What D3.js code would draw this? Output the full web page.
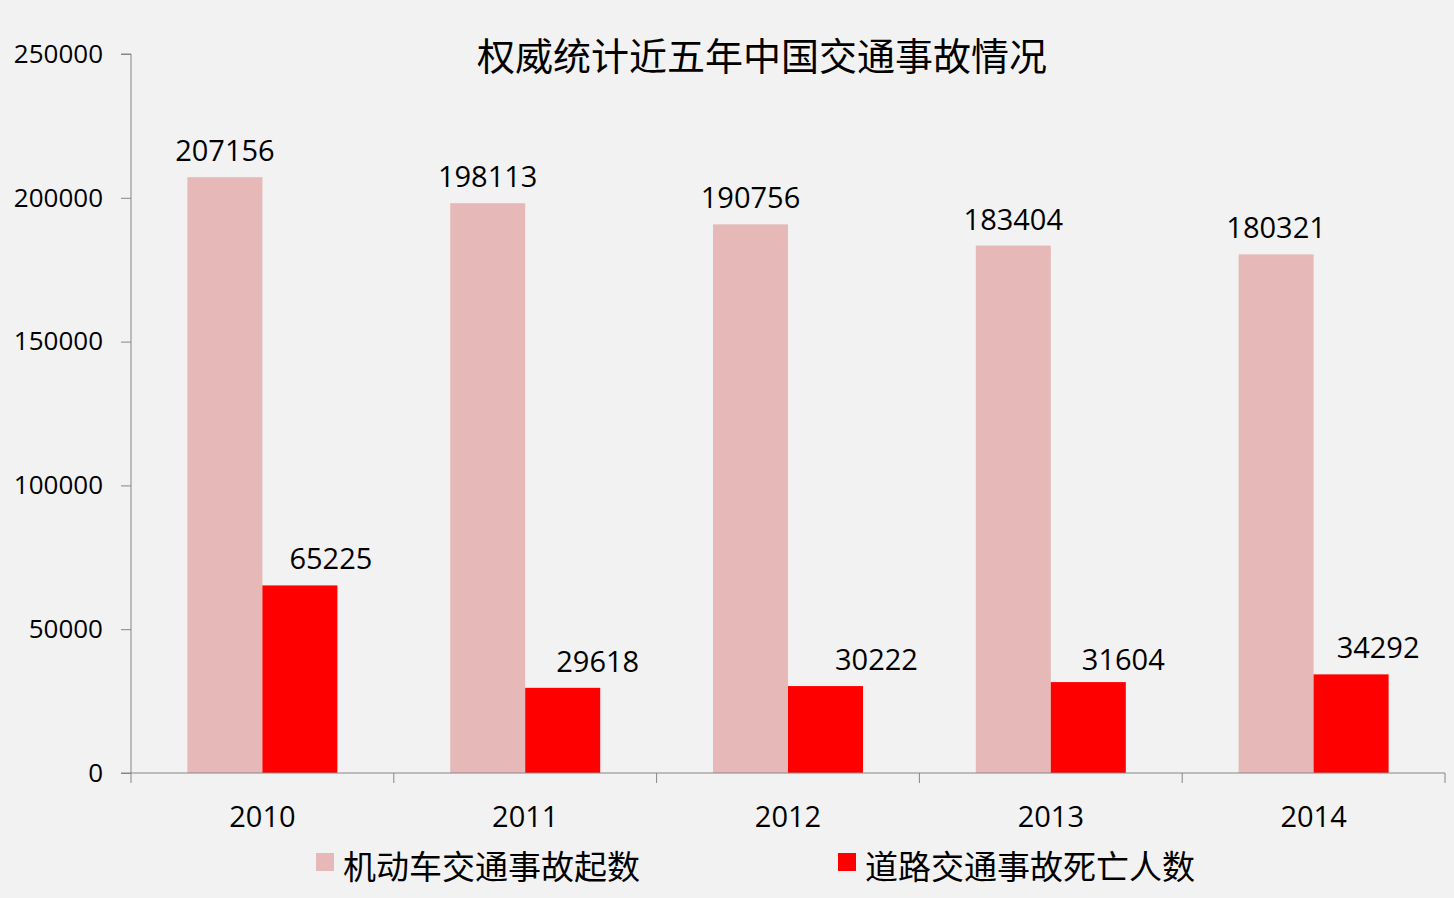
<!DOCTYPE html>
<html><head><meta charset="utf-8">
<script src="https://cdnjs.cloudflare.com/ajax/libs/d3/7.8.5/d3.min.js"></script>
<style>
html,body{margin:0;padding:0;background:#f2f2f2;}
svg{display:block;}
</style></head>
<body>
<script>
const title = "权威统计近五年中国交通事故情况";
const years = ["2010","2011","2012","2013","2014"];
const seriesNames = ["机动车交通事故起数","道路交通事故死亡人数"];
const accidents = [207156,198113,190756,183404,180321];
const deaths = [65225,29618,30222,31604,34292];
const yTicks = [0,50000,100000,150000,200000,250000];
const colors = ["#e6b8b7","#ff0000"];

(function(){
const W=1454,H=898;
const svg=d3.select("body").append("svg").attr("width",W).attr("height",H);
svg.append("rect").attr("width",W).attr("height",H).attr("fill","#f2f2f2");

const pL=131,pR=1445,pT=54,pB=773;
const numFont="'Open Sans', 'Noto Sans', sans-serif";
const cjkFont="'Noto Sans CJK SC', sans-serif";
// manual label nudges (layout, per series / category) as in the original
const labelDx=[[0,0,0,0,0],[31,35,51,35,27]];
const labelDy=[[0,0,0,0,0],[0,0,0,4,0]];

const x=d3.scaleBand().domain(years).range([pL,pR]).paddingInner(0).paddingOuter(0);
const y=d3.scaleLinear().domain([0,250000]).range([pB,pT]);
const groupW=150;
const sub=d3.scaleBand().domain([0,1]).range([0,groupW]);

const data=years.map((yr,i)=>({yr,vals:[accidents[i],deaths[i]]}));

const g=svg.append("g");
data.forEach((d,i)=>{
  const x0=x(d.yr)+x.bandwidth()/2-groupW/2;
  d.vals.forEach((v,j)=>{
    g.append("rect").attr("x",x0+sub(j)).attr("y",y(v))
      .attr("width",sub.bandwidth()).attr("height",pB-y(v)).attr("fill",colors[j]);
    g.append("text").attr("x",x0+sub(j)+sub.bandwidth()/2+labelDx[j][i]).attr("y",y(v)-16+labelDy[j][i])
      .attr("text-anchor","middle").attr("font-family",numFont).attr("font-size",29)
      .attr("fill","#000").text(v);
  });
});

const yAxis=svg.append("g").attr("transform",`translate(${pL},0)`)
  .call(d3.axisLeft(y).tickValues(yTicks).tickSize(10).tickPadding(18).tickFormat(d=>d));
yAxis.selectAll("path,line").attr("stroke","#868686").attr("stroke-width",1);
yAxis.select("path").attr("d",`M-10,${pT}H0V${pB}H-10`);
yAxis.selectAll("text").attr("font-family",numFont).attr("font-size",26).attr("fill","#000");

const xAxis=svg.append("g").attr("transform",`translate(0,${pB})`)
  .call(d3.axisBottom(x).tickSize(0).tickPadding(33));
xAxis.select("path").attr("stroke","#868686").attr("d",`M${pL},0H${pR}`);
xAxis.selectAll("text").attr("font-family",numFont).attr("font-size",29).attr("fill","#000");
const bounds=years.map(yr=>x(yr)).concat([pR]);
xAxis.selectAll("line.b").data(bounds).enter().append("line").attr("class","b")
  .attr("x1",d=>d).attr("x2",d=>d).attr("y1",0).attr("y2",10).attr("stroke","#868686");

svg.append("text").attr("x",762).attr("y",70).attr("text-anchor","middle")
  .attr("font-family",cjkFont).attr("font-size",38).attr("fill","#000").text(title);

const legX=[316,838];
seriesNames.forEach((n,i)=>{
  svg.append("rect").attr("x",legX[i]).attr("y",853).attr("width",18).attr("height",18).attr("fill",colors[i]);
  svg.append("text").attr("x",legX[i]+27).attr("y",879).attr("font-family",cjkFont)
    .attr("font-size",33).attr("fill","#000").text(n);
});
})();
</script>
</body></html>
